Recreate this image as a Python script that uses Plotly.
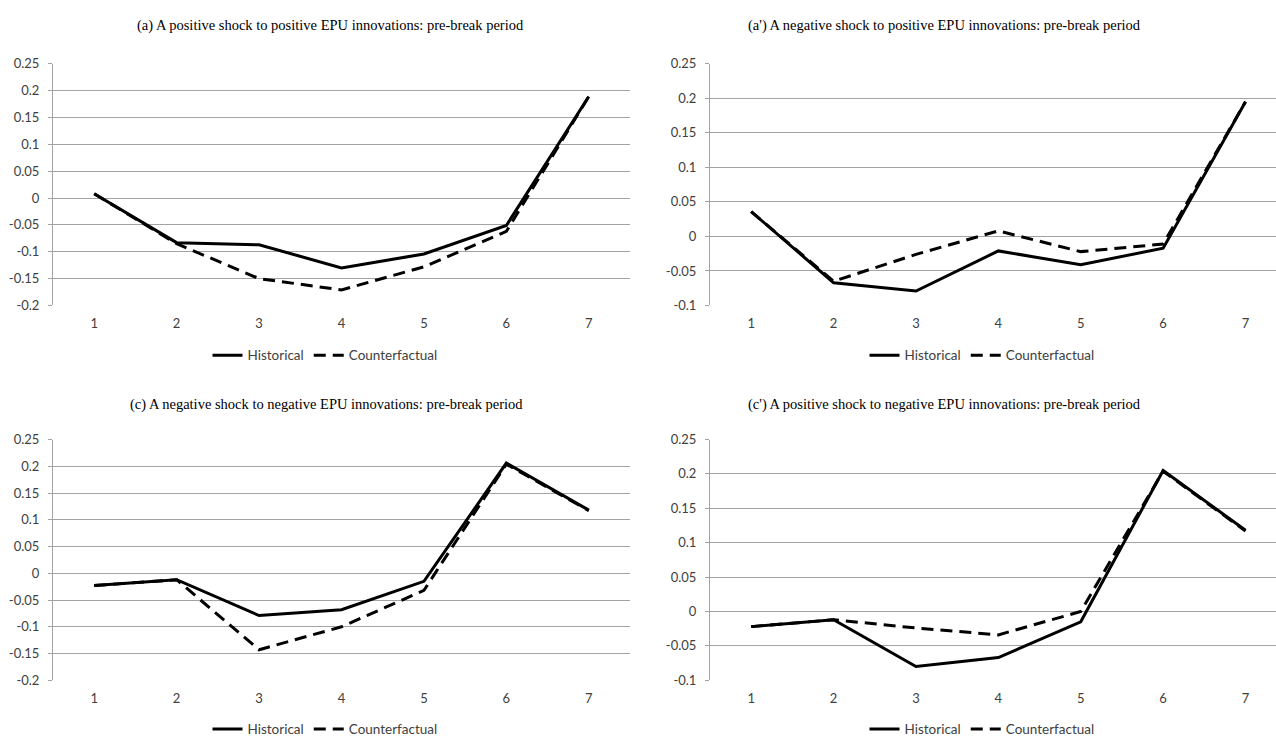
import plotly.graph_objects as go

periods = [1, 2, 3, 4, 5, 6, 7]

titles = [
    "(a) A positive shock to positive EPU innovations: pre-break period",
    "(a') A negative shock to positive EPU innovations: pre-break period",
    "(c) A negative shock to negative EPU innovations: pre-break period",
    "(c') A positive shock to negative EPU innovations: pre-break period",
]

hist_a = [0.008, -0.083, -0.087, -0.130, -0.104, -0.051, 0.189]
cf_a = [0.008, -0.085, -0.150, -0.171, -0.128, -0.062, 0.189]

hist_a2 = [0.036, -0.067, -0.079, -0.021, -0.041, -0.017, 0.195]
cf_a2 = [0.036, -0.065, -0.026, 0.008, -0.022, -0.011, 0.195]

hist_c = [-0.023, -0.012, -0.079, -0.068, -0.015, 0.206, 0.118]
cf_c = [-0.023, -0.012, -0.143, -0.100, -0.032, 0.204, 0.117]

hist_c2 = [-0.022, -0.012, -0.080, -0.067, -0.015, 0.205, 0.118]
cf_c2 = [-0.022, -0.012, -0.024, -0.034, 0.000, 0.204, 0.117]

ticks_wide = [0.25, 0.2, 0.15, 0.1, 0.05, 0, -0.05, -0.1, -0.15, -0.2]
ticks_narrow = [0.25, 0.2, 0.15, 0.1, 0.05, 0, -0.05, -0.1]

W, H = 1276, 746
GRID = "#a3a3a3"
TXT = "#404040"
TICKFONT = dict(family="Lato, 'Open Sans', sans-serif", size=13, color=TXT)

# panel pixel geometry: (left, right, top, bottom)
panels = [
    dict(box=(53, 630, 57, 304), xr=[0.5, 7.5], yt=ticks_wide, h=hist_a, c=cf_a,
         title_xy=(330, 18), legend_y=355),
    dict(box=(710, 1276, 57, 304), xr=[0.5, 7.37], yt=ticks_narrow, h=hist_a2, c=cf_a2,
         title_xy=(945, 18), legend_y=355),
    dict(box=(53, 630, 441, 687), xr=[0.5, 7.5], yt=ticks_wide, h=hist_c, c=cf_c,
         title_xy=(327, 405), legend_y=737),
    dict(box=(710, 1276, 441, 687), xr=[0.5, 7.37], yt=ticks_narrow, h=hist_c2, c=cf_c2,
         title_xy=(945, 405), legend_y=737),
]

fig = go.Figure()
layout = dict(
    width=W, height=H,
    margin=dict(l=0, r=0, t=0, b=0),
    paper_bgcolor="white", plot_bgcolor="white",
    showlegend=True,
    annotations=[],
)

for i, p in enumerate(panels):
    n = i + 1
    sfx = "" if n == 1 else str(n)
    l, r, t, b = p["box"]
    xdom = [l / W, r / W]
    ydom = [1 - b / H, 1 - t / H]
    legend_name = "legend" if n == 1 else f"legend{n}"
    fig.add_trace(go.Scatter(
        x=periods, y=p["h"], mode="lines", name="Historical",
        line=dict(color="black", width=3),
        xaxis=f"x{sfx}", yaxis=f"y{sfx}", legend=legend_name,
    ))
    fig.add_trace(go.Scatter(
        x=periods, y=p["c"], mode="lines", name="Counterfactual",
        line=dict(color="black", width=3, dash="12px,7px"),
        xaxis=f"x{sfx}", yaxis=f"y{sfx}", legend=legend_name,
    ))
    yt = p["yt"]
    ymin, ymax = min(yt), max(yt)
    layout[f"xaxis{sfx}"] = dict(
        domain=xdom, range=p["xr"], anchor=f"y{sfx}",
        tickvals=periods, ticktext=[str(v) for v in periods],
        showgrid=False, zeroline=False, showline=False, ticks="",
        ticklabelstandoff=9, tickfont=TICKFONT, fixedrange=True,
    )
    layout[f"yaxis{sfx}"] = dict(
        domain=ydom, range=[ymin, ymax], anchor=f"x{sfx}",
        tickvals=yt, ticktext=[f"{v:g}" for v in yt],
        showgrid=True, gridcolor=GRID, gridwidth=1,
        zeroline=False, showline=True, linecolor=GRID, linewidth=1,
        ticks="outside", ticklen=4, tickcolor=GRID,
        ticklabelstandoff=6, tickfont=TICKFONT, fixedrange=True,
    )
    # category tick marks on the horizontal axis crossing at zero
    zpos = ydom[0] + (0 - ymin) / (ymax - ymin) * (ydom[1] - ydom[0])
    layout[f"xaxis{n + 4}"] = dict(
        overlaying=f"x{sfx}" if sfx else "x", anchor="free", position=zpos,
        domain=xdom, range=p["xr"],
        tickvals=[1.5, 2.5, 3.5, 4.5, 5.5, 6.5, 7.5],
        showticklabels=False, ticks="outside", ticklen=5, tickcolor=GRID,
        showline=True, linecolor=GRID, linewidth=1, showgrid=False, zeroline=False,
        fixedrange=True,
    )
    tx, ty = p["title_xy"]
    layout["annotations"].append(dict(
        text=titles[i], x=tx / W, y=1 - ty / H, xref="paper", yref="paper",
        xanchor="center", yanchor="middle", showarrow=False,
        font=dict(family="'Liberation Serif', 'Times New Roman', serif", size=14.5, color="black"),
    ))
    layout[legend_name] = dict(
        orientation="h", x=(l + 272) / W, y=1 - p["legend_y"] / H,
        xanchor="center", yanchor="middle",
        font=dict(family="Lato, 'Open Sans', sans-serif", size=13.5, color=TXT),
        bgcolor="rgba(0,0,0,0)", itemwidth=30, tracegroupgap=0,
    )

fig.update_layout(**layout)
fig.write_html("out.html")
